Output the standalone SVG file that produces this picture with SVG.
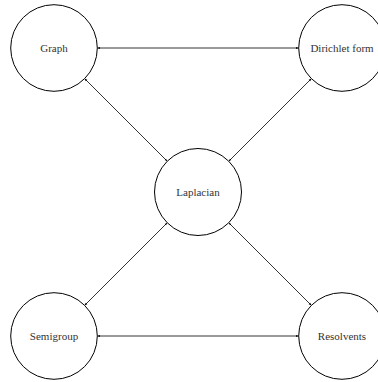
<svg xmlns="http://www.w3.org/2000/svg" width="378" height="382" viewBox="0 0 378 382">
<style>
.node circle{fill:#fff;stroke:#000;stroke-width:1}
.node text{font-family:"Liberation Serif","Times New Roman",serif;font-size:11px;fill:#333;text-anchor:middle;dominant-baseline:central}
.edge{stroke:#000;stroke-width:0.8;fill:none;marker-start:url(#ah);marker-end:url(#ah)}
</style>
<defs>
<marker id="ah" viewBox="0 0 6 6" refX="5.5" refY="3" markerWidth="3" markerHeight="3" orient="auto-start-reverse" markerUnits="userSpaceOnUse">
<path d="M0,0.8 L6,3 L0,5.2 Z" fill="#000"/>
</marker>
</defs>
<rect width="378" height="382" fill="#fff"/>
<g id="connectors">
<line class="edge" x1="97.5" y1="48" x2="298.5" y2="48"/>
<line class="edge" x1="84.6" y1="78.6" x2="167" y2="161"/>
<line class="edge" x1="311.4" y1="78.6" x2="229" y2="161"/>
<line class="edge" x1="167" y1="223" x2="84.6" y2="305.4"/>
<line class="edge" x1="229" y1="223" x2="311.4" y2="305.4"/>
<line class="edge" x1="97.5" y1="336" x2="298.5" y2="336"/>
</g>
<g id="graph" class="node"><circle cx="54" cy="48" r="43.3"/><text x="54" y="48">Graph</text></g>
<g id="dirichlet" class="node"><circle cx="342" cy="48" r="43.3"/><text x="342" y="48">Dirichlet form</text></g>
<g id="laplacian" class="node"><circle cx="198" cy="192" r="43.5"/><text x="198" y="192">Laplacian</text></g>
<g id="semigroup" class="node"><circle cx="54" cy="336" r="43.3"/><text x="54" y="336">Semigroup</text></g>
<g id="resolvents" class="node"><circle cx="342" cy="336" r="43.3"/><text x="342" y="336">Resolvents</text></g>
</svg>
